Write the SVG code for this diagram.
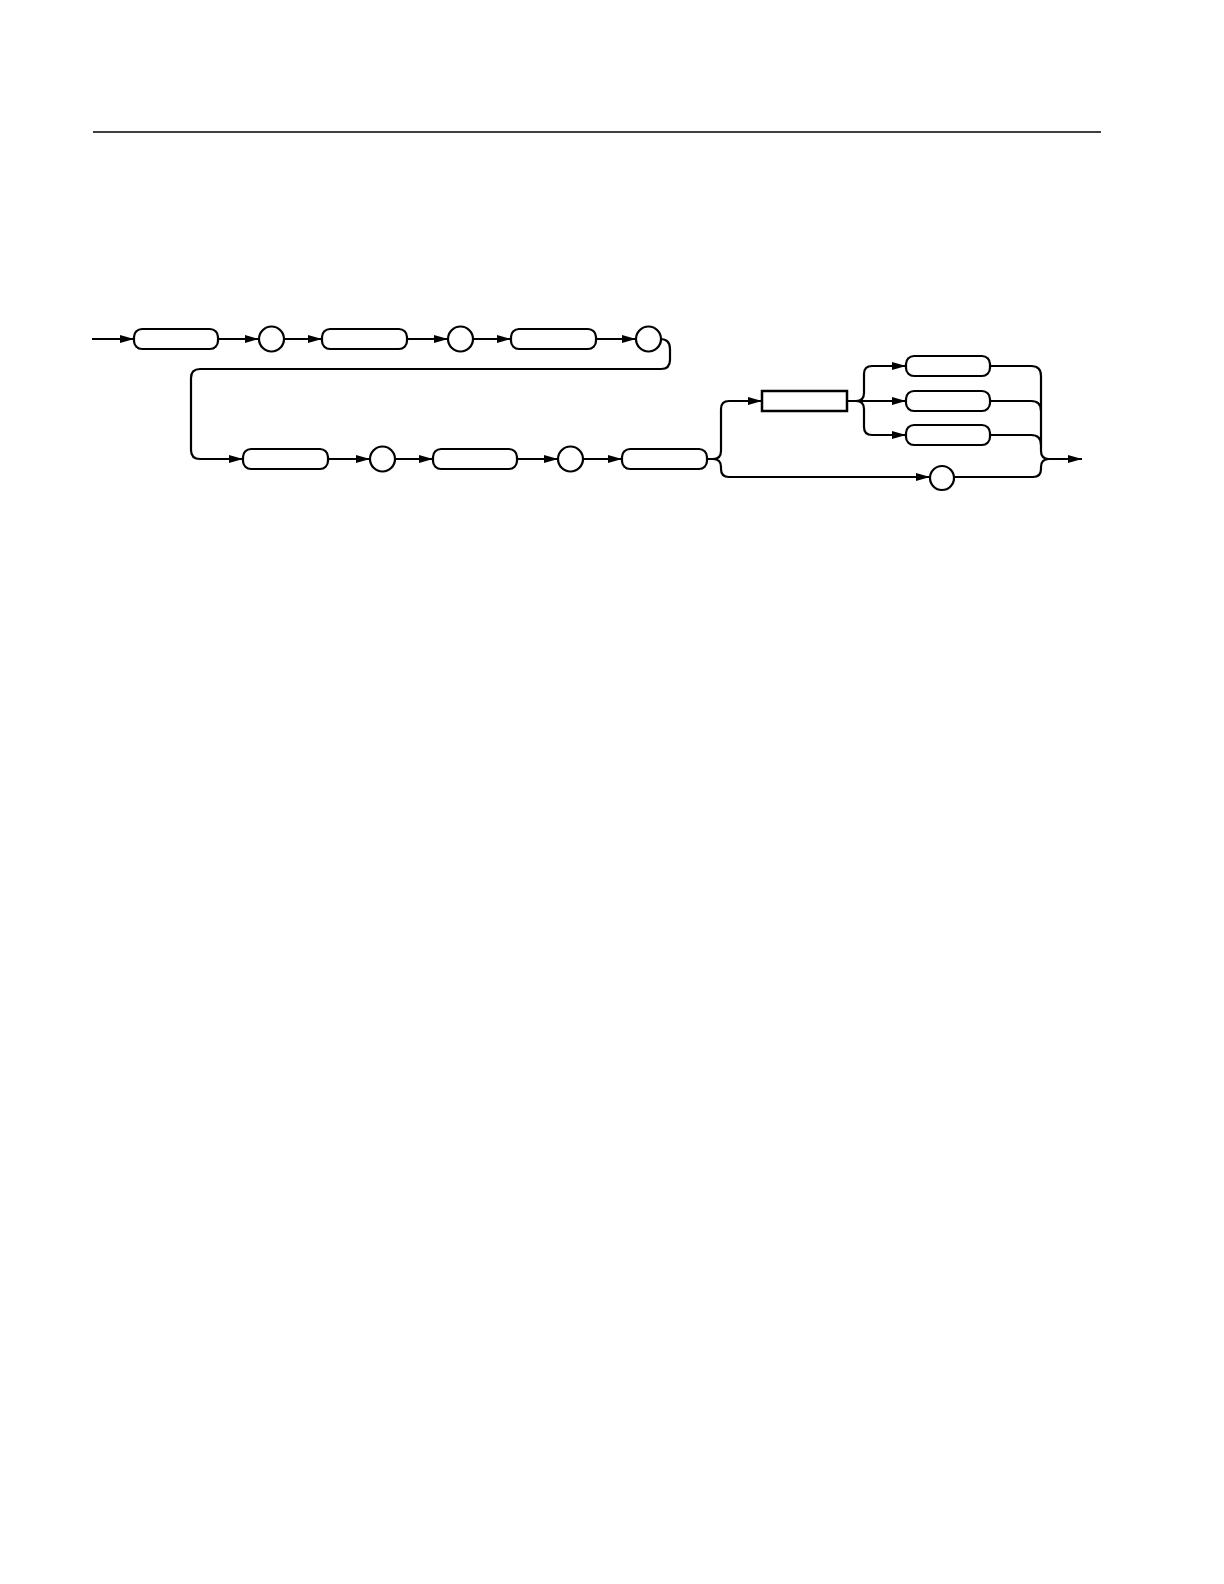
<svg xmlns="http://www.w3.org/2000/svg" width="1224" height="1584" viewBox="0 0 1224 1584">
<style>
.n{fill:#fff;stroke:#000;stroke-width:2.2}
.c{fill:none;stroke:#000;stroke-width:2.2}
.rule{stroke:#000;stroke-width:1.3}
</style>
<defs>
<marker id="ah" markerUnits="userSpaceOnUse" markerWidth="15" markerHeight="9" refX="14" refY="4" orient="auto">
<path d="M0,0 L14,4 L0,8 z" fill="#000"/>
</marker>
</defs>
<rect width="1224" height="1584" fill="#fff"/>
<line class="rule" x1="93" y1="132" x2="1101" y2="132"/>
<g id="connectors">
<path class="c" d="M92,339 H134" marker-end="url(#ah)"/>
<path class="c" d="M218,339 H259" marker-end="url(#ah)"/>
<path class="c" d="M284,339 H322" marker-end="url(#ah)"/>
<path class="c" d="M407,339 H448" marker-end="url(#ah)"/>
<path class="c" d="M473,339 H511" marker-end="url(#ah)"/>
<path class="c" d="M596,339 H636" marker-end="url(#ah)"/>
<path class="c" d="M660,339 Q670,339 670,349 V360 Q670,369 661,369 H200 Q191,369 191,378 V450 Q191,459 200,459 H243" marker-end="url(#ah)"/>
<path class="c" d="M328,459 H370" marker-end="url(#ah)"/>
<path class="c" d="M395,459 H433" marker-end="url(#ah)"/>
<path class="c" d="M517,459 H558" marker-end="url(#ah)"/>
<path class="c" d="M583,459 H622" marker-end="url(#ah)"/>
<path class="c" d="M707,459 H713 Q721,459 721,451 V409 Q721,401 729,401 H762" marker-end="url(#ah)"/>
<path class="c" d="M713,459 Q721,459 721,467 V469 Q721,477 729,477 H930" marker-end="url(#ah)"/>
<path class="c" d="M847,401 H856 Q864,401 864,393 V374 Q864,366 872,366 H906" marker-end="url(#ah)"/>
<path class="c" d="M856,401 H906" marker-end="url(#ah)"/>
<path class="c" d="M856,401 Q864,401 864,409 V427 Q864,435 872,435 H906" marker-end="url(#ah)"/>
<path class="c" d="M990,366 H1031 Q1041,366 1041,376 V451 Q1041,459 1049,459"/>
<path class="c" d="M990,401 H1031 Q1041,401 1041,411"/>
<path class="c" d="M990,435 H1031 Q1041,435 1041,445"/>
<path class="c" d="M954,477 H1033 Q1041,477 1041,469 V467 Q1041,459 1049,459 H1082" marker-end="url(#ah)"/>
</g>
<g id="n1"><rect class="n" x="134" y="329" width="84" height="20" rx="8"/></g>
<g id="n2"><circle class="n" cx="271.5" cy="339" r="12.5"/></g>
<g id="n3"><rect class="n" x="322" y="329" width="85" height="20" rx="8"/></g>
<g id="n4"><circle class="n" cx="460.5" cy="339" r="12.5"/></g>
<g id="n5"><rect class="n" x="511" y="329" width="85" height="20" rx="8"/></g>
<g id="n6"><circle class="n" cx="648.5" cy="339" r="12.5"/></g>
<g id="n7"><rect class="n" x="243" y="449" width="85" height="20" rx="8"/></g>
<g id="n8"><circle class="n" cx="382.5" cy="459" r="12.5"/></g>
<g id="n9"><rect class="n" x="433" y="449" width="84" height="20" rx="8"/></g>
<g id="n10"><circle class="n" cx="570.5" cy="459" r="12.5"/></g>
<g id="n11"><rect class="n" x="622" y="449" width="85" height="20" rx="8"/></g>
<g id="n12"><rect class="n" x="762" y="391" width="85" height="20" style="stroke-width:2.5"/></g>
<g id="n13"><rect class="n" x="906" y="356" width="84" height="20" rx="8"/></g>
<g id="n14"><rect class="n" x="906" y="391" width="84" height="20" rx="8"/></g>
<g id="n15"><rect class="n" x="906" y="425" width="84" height="20" rx="8"/></g>
<g id="n16"><circle class="n" cx="942" cy="478" r="12"/></g>
</svg>
